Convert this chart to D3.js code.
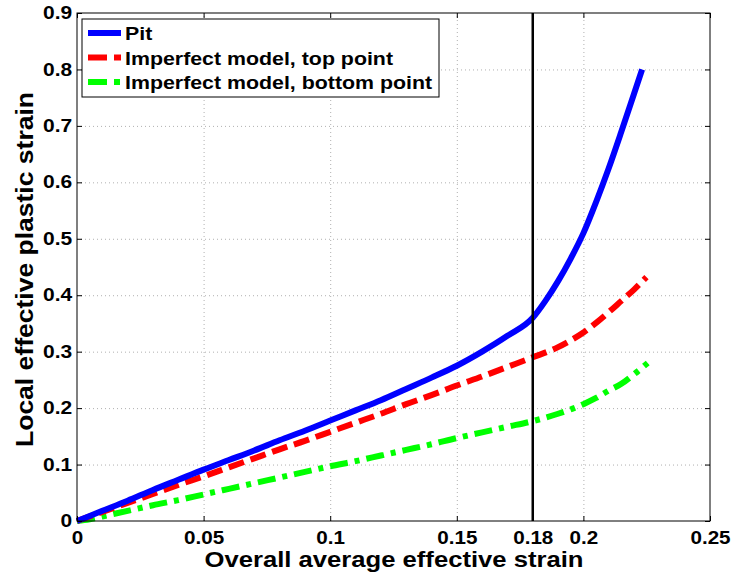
<!DOCTYPE html>
<html>
<head>
<meta charset="utf-8">
<script src="https://cdn.jsdelivr.net/npm/d3@7"></script>
<style>
  body { margin: 0; background: #fff; }
  text { font-family: "Liberation Sans", Arial, sans-serif; font-weight: bold; fill: #000; }
  .grid line { stroke: #b0b0b0; stroke-dasharray: 1,3; }
  .grid path { display: none; }
  .axis path { display: none; }
  .axis line { stroke: #000; }
</style>
</head>
<body>
<div id="chart"></div>
<script>
// values
var xTicks = [0, 0.05, 0.1, 0.15, 0.18, 0.2, 0.25];
var xGrid = [0.05, 0.1, 0.15, 0.2];
var yTicks = [0, 0.1, 0.2, 0.3, 0.4, 0.5, 0.6, 0.7, 0.8, 0.9];
var markStrain = 0.18;

var pitX = [0, 0.01, 0.02, 0.03, 0.04, 0.05, 0.06, 0.07, 0.08, 0.09, 0.1, 0.11, 0.12, 0.13, 0.14, 0.15, 0.16, 0.17, 0.18, 0.185, 0.19, 0.195, 0.2, 0.205, 0.21, 0.215, 0.22, 0.2232];
var pitY = [0, 0.018, 0.036, 0.055, 0.073, 0.091, 0.108, 0.125, 0.143, 0.16, 0.178, 0.196, 0.214, 0.234, 0.254, 0.275, 0.300, 0.328, 0.360, 0.390, 0.425, 0.465, 0.510, 0.565, 0.625, 0.690, 0.757, 0.800];

var topX = [0, 0.01, 0.02, 0.03, 0.04, 0.05, 0.06, 0.07, 0.08, 0.09, 0.1, 0.11, 0.12, 0.13, 0.14, 0.15, 0.16, 0.17, 0.18, 0.19, 0.195, 0.2, 0.205, 0.21, 0.215, 0.22, 0.2249];
var topY = [0, 0.016, 0.032, 0.048, 0.064, 0.079, 0.095, 0.111, 0.127, 0.142, 0.158, 0.174, 0.19, 0.207, 0.223, 0.24, 0.256, 0.273, 0.29, 0.308, 0.32, 0.334, 0.351, 0.37, 0.39, 0.41, 0.432];

var botX = [0, 0.005, 0.01, 0.02, 0.03, 0.04, 0.05, 0.06, 0.07, 0.08, 0.09, 0.1, 0.11, 0.12, 0.13, 0.14, 0.15, 0.16, 0.17, 0.18, 0.19, 0.2, 0.205, 0.21, 0.215, 0.22, 0.2254];
var botY = [0, 0.003, 0.008, 0.018, 0.028, 0.037, 0.047, 0.057, 0.067, 0.077, 0.087, 0.097, 0.106, 0.116, 0.126, 0.136, 0.147, 0.157, 0.167, 0.177, 0.19, 0.207, 0.218, 0.231, 0.243, 0.26, 0.28];

var seriesNames = ["Pit", "Imperfect model, top point", "Imperfect model, bottom point"];
var seriesColors = ["#0000ff", "#ff0000", "#00ff00"];
var seriesDash = [null, "16,7", "18,7,5,7"];
var legendDash = [null, "19,7", "19,7,6,7"];

var svgWidth = 735;
var svgHeight = 579;
var margin = { top: 13, right: 25, bottom: 58, left: 77 };
var width = svgWidth - margin.left - margin.right;
var height = svgHeight - margin.top - margin.bottom;

var svg = d3.select("#chart").append("svg")
    .attr("width", svgWidth)
    .attr("height", svgHeight);

var g = svg.append("g")
    .attr("transform", `translate(${margin.left}, ${margin.top})`);

var x = d3.scaleLinear().domain([0, 0.25]).range([0, width]);
var y = d3.scaleLinear().domain([0, 0.9]).range([height, 0]);

// dotted grid
g.append("g").attr("class", "grid")
    .attr("transform", `translate(0, ${height})`)
    .call(d3.axisBottom(x).tickValues(xGrid).tickSize(-height).tickFormat(""));
g.append("g").attr("class", "grid")
    .call(d3.axisLeft(y).tickValues(yTicks.slice(1, -1)).tickSize(-width).tickFormat(""));

// series
var line = d3.line().curve(d3.curveMonotoneX)
    .x(d => x(d[0]))
    .y(d => y(d[1]));

var series = [d3.zip(pitX, pitY), d3.zip(topX, topY), d3.zip(botX, botY)];

// draw bottom first so the pit curve is on top
[2, 1, 0].forEach(function(i) {
    g.append("path")
        .datum(series[i])
        .attr("fill", "none")
        .attr("stroke", seriesColors[i])
        .attr("stroke-width", 6)
        .attr("stroke-dasharray", seriesDash[i])
        .attr("d", line);
});

// vertical marker at 0.18
g.append("line")
    .attr("x1", x(markStrain)).attr("x2", x(markStrain))
    .attr("y1", 0).attr("y2", height)
    .attr("stroke", "#000")
    .attr("stroke-width", 2.5);

// axes with inward ticks, mirrored on top and right
var fmt = d => d === 0 ? "0" : String(d);

// matlab text comes out a bit wide, so stretch labels horizontally
var xAxis = g.append("g").attr("class", "axis")
    .attr("transform", `translate(0, ${height})`)
    .call(d3.axisBottom(x).tickValues(xTicks).tickSizeInner(-5).tickSizeOuter(0).tickPadding(11).tickFormat(fmt));
xAxis.selectAll("text").attr("font-size", 17.5).attr("fill", "#000")
    .attr("transform", "scale(1.18,1)");

g.append("g").attr("class", "axis")
    .call(d3.axisTop(x).tickValues(xTicks).tickSizeInner(-5).tickSizeOuter(0).tickFormat(""));

var yAxis = g.append("g").attr("class", "axis")
    .call(d3.axisLeft(y).tickValues(yTicks).tickSizeInner(-5).tickSizeOuter(0).tickPadding(4).tickFormat(fmt));
yAxis.selectAll("text").attr("font-size", 17.5).attr("fill", "#000")
    .attr("transform", "scale(1.2,1)");

g.append("g").attr("class", "axis")
    .attr("transform", `translate(${width}, 0)`)
    .call(d3.axisRight(y).tickValues(yTicks).tickSizeInner(-5).tickSizeOuter(0).tickFormat(""));

// frame
g.append("rect")
    .attr("width", width).attr("height", height)
    .attr("fill", "none").attr("stroke", "#000").attr("stroke-width", 1);

// axis titles
svg.append("text")
    .attr("x", 394).attr("y", 567)
    .attr("text-anchor", "middle")
    .attr("font-size", 22)
    .attr("textLength", 379)
    .attr("lengthAdjust", "spacingAndGlyphs")
    .text("Overall average effective strain");

svg.append("text")
    .attr("transform", "translate(33, 269.5) rotate(-90)")
    .attr("text-anchor", "middle")
    .attr("font-size", 24)
    .attr("textLength", 355)
    .attr("lengthAdjust", "spacingAndGlyphs")
    .text("Local effective plastic strain");

// legend
var legend = svg.append("g").attr("transform", "translate(82, 19)");
legend.append("rect")
    .attr("width", 357).attr("height", 78)
    .attr("fill", "#fff").attr("stroke", "#000").attr("stroke-width", 1);

seriesNames.forEach(function(name, i) {
    var row = legend.append("g").attr("transform", `translate(0, ${14 + i * 24.5})`);
    row.append("line")
        .attr("x1", 6).attr("x2", 39)
        .attr("stroke", seriesColors[i])
        .attr("stroke-width", 6)
        .attr("stroke-dasharray", legendDash[i]);
    row.append("text")
        .attr("transform", "translate(43, 7) scale(1.22,1)")
        .attr("font-size", 17.5)
        .text(name);
});
</script>
</body>
</html>
